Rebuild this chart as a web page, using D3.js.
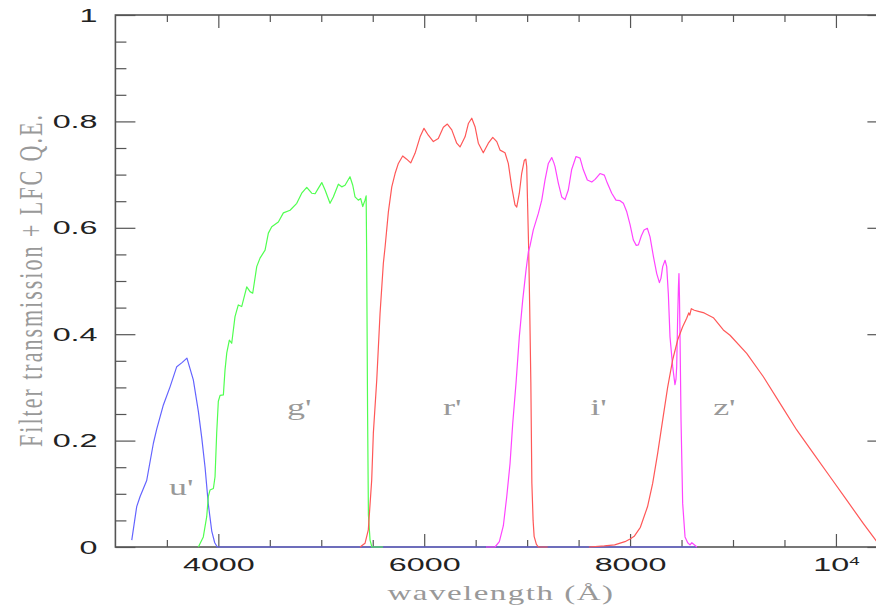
<!DOCTYPE html>
<html>
<head>
<meta charset="utf-8">
<script src="https://cdn.jsdelivr.net/npm/d3@7"></script>
<style>
  html, body { margin: 0; padding: 0; background: #ffffff; }
  svg { display: block; }
</style>
</head>
<body>
<svg id="chart" width="876" height="613"></svg>
<script>
// Filter transmission curves (wavelength in Angstrom, throughput incl. CCD Q.E.)
const uWave  = [3159, 3207, 3240, 3304, 3369, 3402, 3466, 3531, 3596, 3650, 3695, 3757, 3806, 3839, 3871, 3903, 3936, 3965, 3990, 8650];
const uTrans = [0.013, 0.076, 0.095, 0.125, 0.195, 0.222, 0.267, 0.301, 0.339, 0.347, 0.355, 0.314, 0.255, 0.205, 0.150, 0.080, 0.030, 0.008, 0, 0];

const gWave  = [3806, 3854, 3887, 3903, 3919, 3952, 3968, 3984, 4000, 4017, 4049, 4065, 4082, 4107, 4130, 4162, 4194, 4227, 4276, 4308,
                4334, 4373, 4405, 4454, 4486, 4519, 4583, 4632, 4697, 4762, 4810, 4859, 4907, 4940, 4971, 5005, 5037, 5085, 5117, 5166,
                5199, 5231, 5279, 5306, 5328, 5360, 5383, 5403, 5425, 5436, 5441, 5450, 5458, 5474, 5492, 5600];
const gTrans = [0, 0.019, 0.057, 0.095, 0.107, 0.110, 0.132, 0.214, 0.274, 0.285, 0.286, 0.333, 0.365, 0.389, 0.383, 0.433, 0.455, 0.452, 0.489, 0.480,
                0.477, 0.527, 0.543, 0.558, 0.590, 0.602, 0.611, 0.628, 0.633, 0.646, 0.665, 0.676, 0.665, 0.664, 0.674, 0.685, 0.671, 0.646, 0.658, 0.682,
                0.677, 0.680, 0.696, 0.680, 0.658, 0.652, 0.655, 0.640, 0.652, 0.660, 0.550, 0.250, 0.060, 0.013, 0, 0];

const rWave  = [5377, 5425, 5457, 5490, 5506, 5539, 5571, 5603, 5620, 5652, 5685, 5717, 5749, 5791, 5830, 5869, 5911, 5960, 5998, 6040,
                6089, 6137, 6186, 6225, 6268, 6316, 6348, 6397, 6429, 6462, 6494, 6526, 6574, 6623, 6666, 6705, 6737, 6785, 6817, 6850,
                6882, 6899, 6924, 6947, 6973, 6987, 6996, 7005, 7015, 7025, 7036, 7046, 7058, 7068, 7090, 7110, 7200];
const rTrans = [0, 0.007, 0.032, 0.126, 0.214, 0.314, 0.439, 0.533, 0.564, 0.630, 0.677, 0.702, 0.721, 0.735, 0.729, 0.722, 0.740, 0.771, 0.787, 0.774,
                0.762, 0.768, 0.789, 0.795, 0.784, 0.759, 0.752, 0.771, 0.796, 0.806, 0.790, 0.759, 0.741, 0.759, 0.770, 0.762, 0.746, 0.741, 0.721, 0.677,
                0.643, 0.639, 0.665, 0.702, 0.727, 0.729, 0.715, 0.640, 0.560, 0.450, 0.310, 0.120, 0.050, 0.020, 0.005, 0, 0];

const iWave  = [6600, 6688, 6730, 6769, 6802, 6834, 6860, 6892, 6924, 6957, 6989, 7012, 7028, 7060, 7109, 7142, 7174, 7206, 7239, 7260,
                7271, 7303, 7336, 7368, 7400, 7432, 7475, 7514, 7546, 7585, 7628, 7660, 7708, 7750, 7779, 7822, 7863, 7902, 7935, 7968,
                8000, 8032, 8060, 8081, 8110, 8136, 8168, 8194, 8227, 8259, 8285, 8300, 8317, 8340, 8356, 8372, 8388, 8414, 8436, 8446,
                8453, 8462, 8470, 8475, 8480, 8485, 8495, 8511, 8534, 8560, 8582, 8600, 8650];
const iTrans = [0, 0, 0.010, 0.040, 0.095, 0.157, 0.232, 0.308, 0.395, 0.464, 0.520, 0.555, 0.566, 0.596, 0.627, 0.652, 0.690, 0.721, 0.732, 0.722,
                0.715, 0.684, 0.658, 0.653, 0.671, 0.709, 0.734, 0.731, 0.709, 0.690, 0.686, 0.691, 0.702, 0.699, 0.684, 0.665, 0.652, 0.651, 0.646, 0.630,
                0.606, 0.577, 0.567, 0.568, 0.585, 0.596, 0.599, 0.583, 0.546, 0.514, 0.497, 0.505, 0.527, 0.539, 0.527, 0.475, 0.395, 0.339, 0.305, 0.315,
                0.339, 0.427, 0.490, 0.514, 0.470, 0.400, 0.239, 0.082, 0.019, 0.008, 0.004, 0.008, 0];

const zWave  = [7600, 7750, 7850, 7950, 8000, 8040, 8100, 8170, 8220, 8268, 8317, 8365, 8414, 8462, 8511, 8550, 8570, 8580, 8595, 8624,
                8663, 8720, 8809, 8906, 8971, 9133, 9295, 9457, 9619, 9781, 9943, 10105, 10267, 10390, 10430];
const zTrans = [0, 0.002, 0.004, 0.010, 0.015, 0.020, 0.037, 0.076, 0.120, 0.176, 0.239, 0.300, 0.352, 0.389, 0.414, 0.430, 0.440, 0.436, 0.448, 0.445,
                0.443, 0.440, 0.431, 0.408, 0.398, 0.364, 0.320, 0.270, 0.220, 0.176, 0.132, 0.088, 0.044, 0.012, 0.002];

const bandNames  = ["u'", "g'", "r'", "i'", "z'"];
const bandWaves  = [uWave, gWave, rWave, iWave, zWave];
const bandTrans  = [uTrans, gTrans, rTrans, iTrans, zTrans];
const bandColors = ["#6464ff", "#50ff50", "#ff5858", "#ff44ff", "#ff5858"];
// where each band name sits, in data units (wavelength, throughput)
const labelWave  = [3520, 4667, 6183, 7612, 8807];
const labelTrans = [0.098, 0.248, 0.248, 0.248, 0.248];

const xMajor = [4000, 6000, 8000, 10000];
const xMinor = [3500, 4500, 5000, 5500, 6500, 7000, 7500, 8500, 9000, 9500];
const yMajor = [0, 0.2, 0.4, 0.6, 0.8, 1];
const yMinor = [0.05, 0.1, 0.15, 0.25, 0.3, 0.35, 0.45, 0.5, 0.55, 0.65, 0.7, 0.75, 0.85, 0.9, 0.95];

const xTitle = "wavelength (\u00C5)";
const yTitle = "Filter transmission + LFC Q.E.";

// ---------------------------------------------------------------
const svg = d3.select("#chart");
const L = 115.4, R = 887.4, T = 15, B = 547;
const x = d3.scaleLinear().domain([3000, 10500]).range([L, R]);
const y = d3.scaleLinear().domain([0, 1]).range([B, T]);

const axisColor = "#555";
const tickFont = "Liberation Sans, Arial, sans-serif";
const labelFont = "Liberation Serif, serif";

// frame
svg.append("rect")
  .attr("x", L).attr("y", T).attr("width", R - L).attr("height", B - T)
  .attr("fill", "none").attr("stroke", axisColor).attr("stroke-width", 1.6);

function styleAxis(g) {
  g.select(".domain").remove();
  g.selectAll(".tick line").attr("stroke", axisColor).attr("stroke-width", 1.2);
  g.selectAll(".tick text")
    .attr("fill", "#222")
    .attr("font-family", tickFont)
    .attr("font-size", 19)
    .attr("transform", "scale(1.7,1)");
}

const fmtX = d => d === 10000 ? "10" : String(d);
const fmtY = d => d === 0 ? "0" : d === 1 ? "1" : d3.format(".1f")(d);

svg.append("g").attr("transform", `translate(0,${B})`)
  .call(d3.axisBottom(x).tickValues(xMajor).tickSize(-13).tickPadding(11).tickFormat(fmtX))
  .call(styleAxis)
  .call(g => g.selectAll(".tick text").filter(d => d === 10000)
    .append("tspan").attr("font-size", 11).attr("dy", -6).text("4"));
svg.append("g").attr("transform", `translate(0,${B})`)
  .call(d3.axisBottom(x).tickValues(xMinor).tickSize(-7).tickFormat(""))
  .call(styleAxis);
svg.append("g").attr("transform", `translate(0,${T})`)
  .call(d3.axisTop(x).tickValues(xMajor).tickSize(-13).tickFormat(""))
  .call(styleAxis);
svg.append("g").attr("transform", `translate(0,${T})`)
  .call(d3.axisTop(x).tickValues(xMinor).tickSize(-7).tickFormat(""))
  .call(styleAxis);

svg.append("g").attr("transform", `translate(${L},0)`)
  .call(d3.axisLeft(y).tickValues(yMajor).tickSize(-20).tickPadding(10.5).tickFormat(fmtY))
  .call(styleAxis);
svg.append("g").attr("transform", `translate(${L},0)`)
  .call(d3.axisLeft(y).tickValues(yMinor).tickSize(-11).tickFormat(""))
  .call(styleAxis);
svg.append("g").attr("transform", `translate(${R},0)`)
  .call(d3.axisRight(y).tickValues(yMajor).tickSize(-20).tickFormat(""))
  .call(styleAxis);
svg.append("g").attr("transform", `translate(${R},0)`)
  .call(d3.axisRight(y).tickValues(yMinor).tickSize(-11).tickFormat(""))
  .call(styleAxis);

// curves
svg.append("clipPath").attr("id", "plotArea")
  .append("rect").attr("x", L).attr("y", T - 1).attr("width", R - L).attr("height", B - T + 2);

const line = d3.line().x(d => x(d[0])).y(d => y(d[1]));
const curves = svg.append("g").attr("clip-path", "url(#plotArea)");
bandNames.forEach((name, k) => {
  const pts = bandWaves[k].map((w, j) => [w, bandTrans[k][j]]);
  curves.append("path")
    .datum(pts)
    .attr("d", line)
    .attr("fill", "none")
    .attr("stroke", bandColors[k])
    .attr("stroke-width", 1.2)
    .attr("stroke-linejoin", "round");
});

// band names
bandNames.forEach((name, k) => {
  svg.append("text")
    .attr("transform", `translate(${x(labelWave[k])},${y(labelTrans[k])}) scale(1.5,1)`)
    .attr("font-family", labelFont)
    .attr("font-size", 24)
    .attr("fill", "#999")
    .text(name);
});

// axis titles
svg.append("text")
  .attr("transform", `translate(501,600) scale(1.5,1)`)
  .attr("text-anchor", "middle")
  .attr("font-family", labelFont)
  .attr("font-size", 22)
  .attr("letter-spacing", 1)
  .attr("fill", "#999")
  .text(xTitle);

svg.append("text")
  .attr("transform", `translate(42,280) scale(1.5,1) rotate(-90)`)
  .attr("text-anchor", "middle")
  .attr("font-family", labelFont)
  .attr("font-size", 22)
  .attr("letter-spacing", 2)
  .attr("fill", "#999")
  .text(yTitle);
</script>
</body>
</html>
